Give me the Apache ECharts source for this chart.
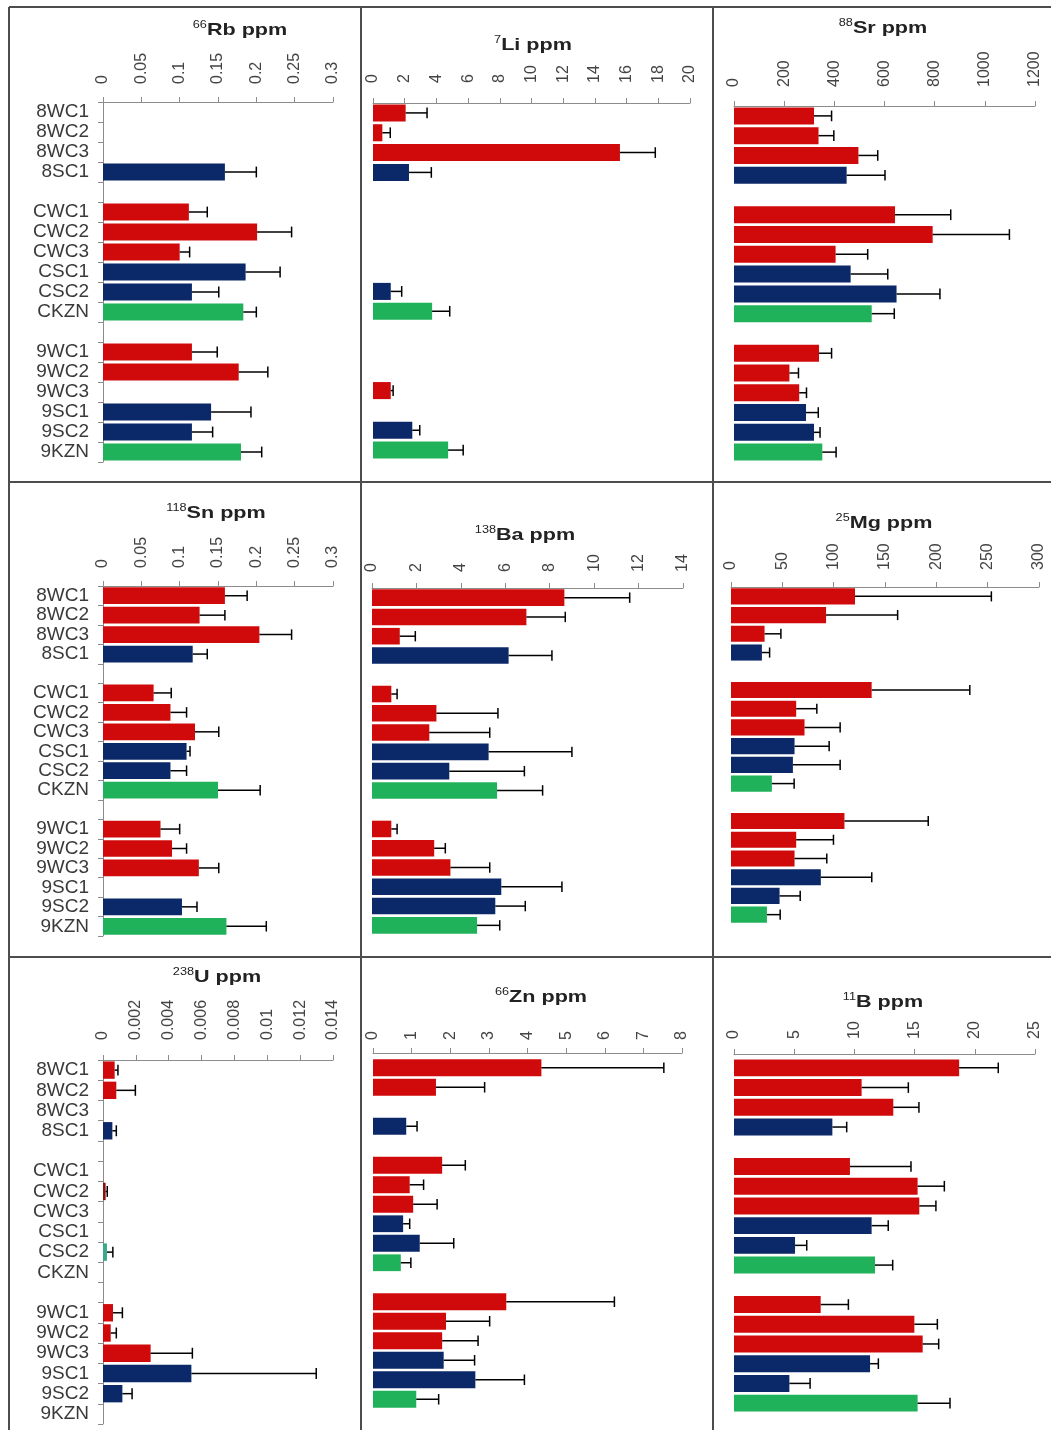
<!DOCTYPE html>
<html><head><meta charset="utf-8">
<script src="https://cdn.jsdelivr.net/npm/echarts@6/dist/echarts.min.js"></script>
<style>html,body{margin:0;padding:0;background:#fff}#c{width:1051px;height:1430px}</style>
</head><body><div id="c"></div>
<script>
// ---- categories ----
const categories = ['8WC1','8WC2','8WC3','8SC1','','CWC1','CWC2','CWC3','CSC1','CSC2','CKZN','','9WC1','9WC2','9WC3','9SC1','9SC2','9KZN'];
const groups     = ['WC','WC','WC','SC','','WC','WC','WC','SC','SC','KZN','','WC','WC','WC','SC','SC','KZN'];

// ---- series values (mean) and error (+SD) ----
const rbMean = [null,null,null,0.159,null,0.112,0.201,0.100,0.186,0.116,0.183,null,0.116,0.177,null,0.141,0.116,0.180];
const rbErr  = [null,null,null,0.041,null,0.024,0.045,0.013,0.045,0.035,0.017,null,0.033,0.038,null,0.052,0.027,0.027];

const liMean = [2.06,0.59,15.58,2.27,null,null,null,null,null,1.12,3.73,null,null,null,1.12,null,2.48,4.74];
const liErr  = [1.35,0.50,2.23,1.41,null,null,null,null,null,0.69,1.11,null,null,null,0.15,null,0.47,0.95];

const srMean = [319,337,496,449,null,642,792,405,465,648,549,null,339,221,260,287,319,352];
const srErr  = [70,61,77,153,null,222,306,128,148,173,90,null,50,36,29,49,24,55];

const snMean = [0.159,0.126,0.204,0.117,null,0.066,0.088,0.120,0.109,0.088,0.150,null,0.075,0.090,0.125,null,0.103,0.161];
const snErr  = [0.029,0.033,0.042,0.019,null,0.023,0.021,0.031,0.0045,0.021,0.055,null,0.025,0.019,0.026,null,0.0196,0.052];

const baMean = [8.66,6.95,1.25,6.15,null,0.87,2.90,2.58,5.25,3.48,5.63,null,0.87,2.80,3.53,5.82,5.55,4.73];
const baErr  = [2.94,1.75,0.70,1.95,null,0.26,2.77,2.72,3.75,3.38,2.05,null,0.26,0.50,1.77,2.73,1.35,1.02];

const mgMean = [120.8,92.6,32.7,30.1,null,137,63.5,71.6,61.9,60.3,39.8,null,110.5,63.5,61.9,87.5,47.3,35];
const mgErr  = [132.8,69.7,15.9,7.5,null,95.6,20.1,34.7,33.7,46,21.7,null,81.6,36.3,31.4,49.6,20.1,12.9];

const uMean = [0.00071,0.00081,null,0.00057,null,null,0.00016,null,null,0.00024,null,null,0.00061,0.00047,0.0029,0.00538,0.00118,null];
const uErr  = [0.0002,0.00116,null,0.00024,null,null,0.0001,null,null,0.00036,null,null,0.00057,0.00034,0.00254,0.0076,0.00059,null];

const znMean = [4.36,1.63,null,0.86,null,1.79,0.95,1.04,0.78,1.21,0.72,null,3.45,1.89,1.79,1.83,2.65,1.12];
const znErr  = [3.17,1.26,null,0.28,null,0.60,0.36,0.62,0.17,0.88,0.26,null,2.80,1.13,0.93,0.80,1.27,0.58];

const bMean = [18.7,10.6,13.23,8.17,null,9.63,15.25,15.39,11.43,5.07,11.71,null,7.2,14.98,15.67,11.3,4.6,15.25];
const bErr  = [3.25,3.88,2.13,1.19,null,5.07,2.22,1.38,1.38,0.97,1.47,null,2.3,1.91,1.33,0.69,1.72,2.69];

// ---- axis scales: [min, max, interval] ----
const rbAxis = [0, 0.3, 0.05];
const liAxis = [0, 20, 2];
const srAxis = [0, 1200, 200];
const snAxis = [0, 0.3, 0.05];
const baAxis = [0, 14, 2];
const mgAxis = [0, 300, 50];
const uAxis  = [0, 0.014, 0.002];
const znAxis = [0, 8, 1];
const bAxis  = [0, 25, 5];

// ---- titles: [isotope mass, label] ----
const titles = [['66','Rb ppm'],['7','Li ppm'],['88','Sr ppm'],['118','Sn ppm'],['138','Ba ppm'],['25','Mg ppm'],['238','U ppm'],['66','Zn ppm'],['11','B ppm']];

// ---- layout / style ----
const COLORS = {WC:'#d00a0a', SC:'#0b2868', KZN:'#20b25a', '':'#999'};
const panels = [
  {mean:rbMean, err:rbErr, ax:rbAxis, grid:{left:103,top:102,width:230,height:360}, t:[240,30], margin:18, off:0, cats:true},
  {mean:liMean, err:liErr, ax:liAxis, grid:{left:373,top:103,width:317,height:357}, t:[533,45], margin:20, off:0, cats:false},
  {mean:srMean, err:srErr, ax:srAxis, grid:{left:734,top:106,width:301,height:356}, t:[883,28], margin:19, off:0, cats:false},
  {mean:snMean, err:snErr, ax:snAxis, grid:{left:103,top:586,width:230,height:350}, t:[216,513], margin:18, off:0, cats:true},
  {mean:baMean, err:baErr, ax:baAxis, grid:{left:372,top:588,width:311,height:347}, t:[525,535], margin:16, off:0, cats:false},
  {mean:mgMean, err:mgErr, ax:mgAxis, grid:{left:731,top:587,width:308,height:337}, t:[884,523], margin:17, off:0, cats:false},
  {mean:uMean,  err:uErr,  ax:uAxis,  grid:{left:103,top:1060,width:230,height:364}, t:[217,977], margin:20, off:0, cats:true, override:{6:'#8a1010', 9:'#3aa98a'}},
  {mean:znMean, err:znErr, ax:znAxis, grid:{left:373,top:1058,width:309,height:351}, t:[541,997], margin:13, off:5, cats:false},
  {mean:bMean,  err:bErr,  ax:bAxis,  grid:{left:734,top:1058,width:301,height:355}, t:[883,1002], margin:15, off:4, cats:false}
];

const FONT = 'Liberation Sans, Arial, sans-serif';
const grid = [], xAxis = [], yAxis = [], series = [], graphic = [];

panels.forEach((p, i) => {
  grid.push(Object.assign({containLabel:false}, p.grid));
  xAxis.push({
    type:'value', gridIndex:i, position:'top', min:p.ax[0], max:p.ax[1], interval:p.ax[2], offset:p.off,
    axisLine:{show:true, lineStyle:{color:'#8c8c8c', width:1}},
    axisTick:{show:true, inside:false, length:5, lineStyle:{color:'#8c8c8c'}},
    splitLine:{show:false},
    axisLabel:{rotate:-90, margin:p.margin, fontSize:16, color:'#444', fontFamily:FONT,
      formatter: v => String(+Number(v).toPrecision(10))}
  });
  yAxis.push({
    type:'category', gridIndex:i, data:categories, inverse:true,
    axisLine:{show:p.cats, lineStyle:{color:'#8c8c8c', width:1}},
    axisTick:{show:p.cats, length:5, interval:0, lineStyle:{color:'#8c8c8c'}},
    axisLabel:{show:p.cats, interval:0, margin:14, fontSize:19, color:'#3a3a3a', fontFamily:FONT},
    splitLine:{show:false}
  });
  const ov = p.override || {};
  series.push({
    type:'bar', xAxisIndex:i, yAxisIndex:i, data:p.mean, barCategoryGap:'14%',
    itemStyle:{color: prm => ov[prm.dataIndex] || COLORS[groups[prm.dataIndex]]},
    silent:true, animation:false
  });
  const eb = [];
  p.mean.forEach((m, k) => { if (m != null && p.err[k] != null) eb.push([k, m, p.err[k]]); });
  series.push({
    type:'custom', xAxisIndex:i, yAxisIndex:i, data:eb, encode:{x:1, y:0}, silent:true, animation:false, z:5,
    renderItem:(params, api) => {
      const k = api.value(0), m = api.value(1), e = api.value(2);
      const p0 = api.coord([m, k]), p1 = api.coord([m + e, k]);
      const h = api.size([0, 1])[1] * 0.27;
      return {type:'group', children:[
        {type:'line', shape:{x1:p0[0], y1:p0[1], x2:p1[0], y2:p1[1]}, style:{stroke:'#000', lineWidth:1.5}},
        {type:'line', shape:{x1:p1[0], y1:p1[1]-h, x2:p1[0], y2:p1[1]+h}, style:{stroke:'#000', lineWidth:1.5}}
      ]};
    }
  });
  const tt = titles[i];
  graphic.push({
    type:'text', x:p.t[0], y:p.t[1], scaleX:1.27, z:10,
    style:{
      text:'{s|' + tt[0] + '}{m|' + tt[1] + '}', align:'center', verticalAlign:'middle',
      rich:{
        s:{fontSize:10, fontFamily:FONT, fill:'#222', verticalAlign:'top', lineHeight:12},
        m:{fontSize:17, fontWeight:'bold', fontFamily:FONT, fill:'#222', lineHeight:20}
      }
    }
  });
});

// panel borders
const BC = '#4d4d4d';
[[9,7,1051,7],[9,482,1051,482],[9,957,1051,957],[9,7,9,1430],[361,7,361,1430],[713,7,713,1430]].forEach(l => {
  graphic.push({type:'line', shape:{x1:l[0], y1:l[1], x2:l[2], y2:l[3]}, style:{stroke:BC, lineWidth:2}, z:20});
});

const chart = echarts.init(document.getElementById('c'), null, {renderer:'canvas'});
chart.setOption({animation:false, backgroundColor:'#fff', grid, xAxis, yAxis, series, graphic});
</script>
</body></html>
